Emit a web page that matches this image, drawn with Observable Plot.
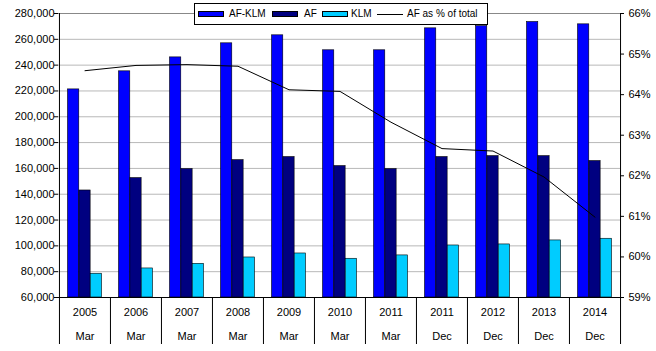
<!DOCTYPE html>
<html>
<head>
<meta charset="utf-8">
<script src="https://cdn.jsdelivr.net/npm/d3@7"></script>
<script src="https://cdn.jsdelivr.net/npm/@observablehq/plot@0.6"></script>
<style>
  html, body { margin: 0; padding: 0; background: #fff; }
  #wrap { position: relative; width: 656px; height: 351px; font-family: Arial, "Liberation Sans", sans-serif; }
  #legend { position: absolute; left: 194px; top: 3px; width: 294px; height: 22px; border: 1px solid #000; background: #fff;
            font-size: 10px; color: #000; box-sizing: border-box; }
  #legend > * { position: absolute; }
  .sw { top: 7px; width: 24px; height: 4px; border: 1px solid #000; }
  .ln { top: 10px; width: 26px; height: 0; border-top: 1px solid #000; }
  .tx { top: 3px; line-height: 14px; white-space: nowrap; }
</style>
</head>
<body>
<div id="wrap"></div>
<script>
const years  = ["2005","2006","2007","2008","2009","2010","2011","2011","2012","2013","2014"];
const months = ["Mar","Mar","Mar","Mar","Mar","Mar","Mar","Dec","Dec","Dec","Dec"];
const afklm  = [221200, 235200, 246000, 256900, 263100, 251500, 251500, 268500, 270200, 273400, 271600];
const af     = [142900, 152500, 159500, 166400, 168800, 161800, 159500, 168800, 169500, 169500, 165700];
const klm    = [78400, 82500, 86100, 91000, 94100, 90000, 92600, 100300, 101100, 104200, 105500];
const afPct  = [64.59, 64.72, 64.74, 64.70, 64.12, 64.08, 63.32, 62.67, 62.61, 61.97, 60.98];
const leftTicks = [60000, 80000, 100000, 120000, 140000, 160000, 180000, 200000, 220000, 240000, 260000, 280000];
const pctTicks  = [59, 60, 61, 62, 63, 64, 65, 66];

const W = 656, H = 351, ML = 58, MR = 36, MT = 13, MB = 54;
const keys = years.map((y, i) => y + " " + months[i]);
const idx = keys.map((_, i) => i);
const bw = (W - ML - MR) / keys.length;
const slot = bw / 4.5;
const frameH = H - MT - MB, frameW = W - ML - MR;
// map percent axis (59%..66%) onto the left value axis
const toLeft = p => 60000 + (p - 59) / 7 * 220000;
const fmt = d3.format(",");

const barOpts = (vals, fill, k) => ({
  x: i => keys[i], y1: () => 60000, y2: i => vals[i], fill, stroke: "#000", strokeWidth: 0.6,
  insetLeft: slot * (0.75 + k), insetRight: bw - slot * (1.75 + k)
});

const chart = Plot.plot({
  width: W, height: H,
  marginLeft: ML, marginRight: MR, marginTop: MT, marginBottom: MB,
  style: { fontFamily: "Arial, 'Liberation Sans', sans-serif", fontSize: "11px", background: "#fff", color: "#000" },
  x: { domain: keys, padding: 0, axis: null },
  y: { domain: [60000, 280000], axis: null },
  marks: [
    Plot.ruleY(leftTicks.slice(1, -1), { stroke: "#b8b8b8", strokeWidth: 1 }),
    Plot.ruleY([280000], { stroke: "#888", strokeWidth: 1 }),
    Plot.barY(idx, barOpts(afklm, "#0000ff", 0)),
    Plot.barY(idx, barOpts(af, "#000080", 1)),
    Plot.barY(idx, barOpts(klm, "#00ccff", 2)),
    Plot.line(idx, { x: i => keys[i], y: i => toLeft(afPct[i]), stroke: "#000", strokeWidth: 1 }),
    // axis lines
    Plot.ruleY([60000], { stroke: "#000", strokeWidth: 1 }),
    Plot.ruleX([keys[0]], { dx: -bw / 2, stroke: "#000" }),
    Plot.ruleX([keys[keys.length - 1]], { dx: bw / 2, stroke: "#000" }),
    // left ticks & labels
    Plot.ruleY(leftTicks, { stroke: "#000", insetLeft: -4, insetRight: frameW }),
    Plot.text(leftTicks, { y: d => d, text: d => fmt(d), frameAnchor: "left", textAnchor: "end", dx: -4, fill: "#000", ariaLabel: "left-labels" }),
    // right ticks & labels
    Plot.ruleY(pctTicks.map(toLeft), { stroke: "#000", insetLeft: frameW, insetRight: -4 }),
    Plot.text(pctTicks, { y: p => toLeft(p), text: p => p + "%", frameAnchor: "right", textAnchor: "start", dx: 8, fill: "#000" }),
    // category separators
    Plot.ruleX(keys, { x: d => d, dx: -bw / 2, stroke: "#000", insetTop: frameH, insetBottom: -47 }),
    Plot.ruleX([keys[keys.length - 1]], { dx: bw / 2, stroke: "#000", insetTop: frameH, insetBottom: -47 }),
    // category labels
    Plot.text(idx, { x: i => keys[i], text: i => years[i], frameAnchor: "bottom", dy: 18, fill: "#000" }),
    Plot.text(idx, { x: i => keys[i], text: i => months[i], frameAnchor: "bottom", dy: 42, fill: "#000" })
  ]
});
d3.select(chart).selectAll('g[aria-label="left-labels"] text').attr("letter-spacing", "1.2px");

const wrap = document.getElementById("wrap");
wrap.appendChild(chart);
const legend = document.createElement("div");
legend.id = "legend";
legend.innerHTML =
  '<span class="sw" style="left:3px;background:#0000ff"></span><span class="tx" style="left:34px">AF-KLM</span>' +
  '<span class="sw" style="left:77px;background:#000080"></span><span class="tx" style="left:109px">AF</span>' +
  '<span class="sw" style="left:127px;background:#00ccff"></span><span class="tx" style="left:156px">KLM</span>' +
  '<span class="ln" style="left:182px"></span><span class="tx" style="left:212px">AF as % of total</span>';
wrap.appendChild(legend);
</script>
</body>
</html>
